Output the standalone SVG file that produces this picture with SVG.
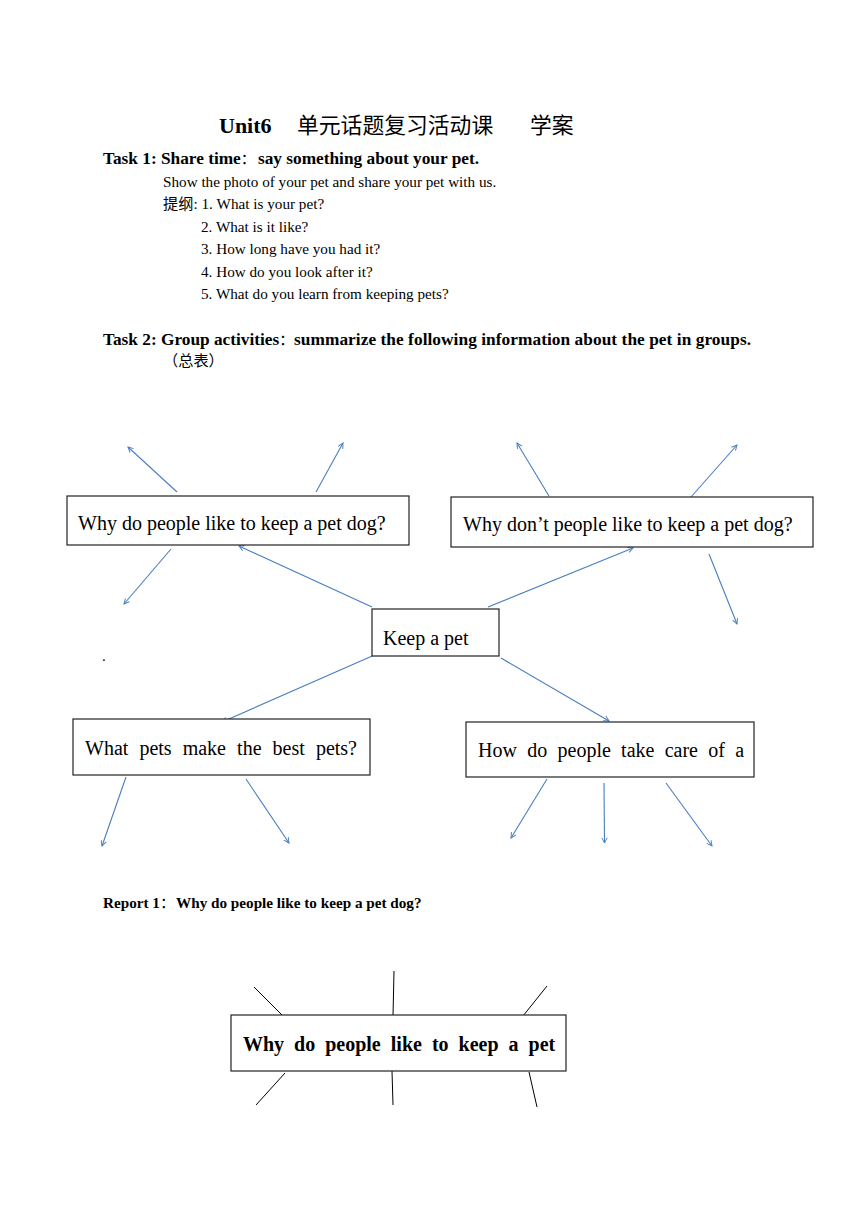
<svg xmlns="http://www.w3.org/2000/svg" width="860" height="1216" viewBox="0 0 860 1216">
<defs>
<style>
.s{font-family:"Liberation Serif","Noto Sans CJK SC",serif;fill:#000}
.b{font-weight:bold}
.n{font-weight:normal}
.r{font-size:15.2px}
.h{font-size:17.3px}
.bx{font-size:20px}
.cj{font-family:"Noto Sans CJK SC",sans-serif}
.box{fill:#fff;stroke:#222;stroke-width:1.2}
.ar{stroke:#4a7ebf;stroke-width:1.1;fill:none;marker-end:url(#ah)}
.bl{stroke:#000;stroke-width:1;fill:none}
</style>
<marker id="ah" viewBox="0 0 8 8" refX="7" refY="4" markerWidth="7" markerHeight="7" markerUnits="userSpaceOnUse" orient="auto">
<path d="M1,1 L7,4 L1,7" fill="none" stroke="#4a7ebf" stroke-width="1.1"/>
</marker>
</defs>
<rect width="860" height="1216" fill="#fff"/>

<g id="header">
<text class="s b" x="219" y="133" font-size="22">Unit6</text>
<text class="cj" x="297" y="133" font-size="21.8">单元话题复习活动课</text>
<text class="cj" x="530" y="133" font-size="21.8">学案</text>
<text class="s b h" x="103" y="164">Task 1: Share time<tspan class="n" font-size="15">：</tspan><tspan x="258">say something about your pet.</tspan></text>
<text class="s r" x="163" y="187">Show the photo of your pet and share your pet with us.</text>
<text class="s r" x="163" y="209">提纲: 1. What is your pet?</text>
<text class="s r" x="201" y="232">2. What is it like?</text>
<text class="s r" x="201" y="254">3. How long have you had it?</text>
<text class="s r" x="201" y="277">4. How do you look after it?</text>
<text class="s r" x="201" y="299">5. What do you learn from keeping pets?</text>
<text class="s b h" x="103" y="345">Task 2: Group activities<tspan class="n" font-size="15">：</tspan><tspan x="294" textLength="457" lengthAdjust="spacing">summarize the following information about the pet in groups.</tspan></text>
<text class="s r" x="163" y="366">（总表）</text>
<text class="s r" x="102" y="661">.</text>
</g>

<g id="connectors">
<line class="ar" x1="177" y1="492" x2="128" y2="447"/>
<line class="ar" x1="316" y1="492" x2="343" y2="443"/>
<line class="ar" x1="171" y1="549" x2="124" y2="604"/>
<line class="ar" x1="372" y1="607" x2="239" y2="546"/>
<line class="ar" x1="549" y1="496" x2="517" y2="443"/>
<line class="ar" x1="691" y1="497" x2="737" y2="445"/>
<line class="ar" x1="709" y1="554" x2="737" y2="624"/>
<line class="ar" x1="488" y1="607" x2="633" y2="548"/>
<line class="ar" x1="379" y1="653" x2="222" y2="722"/>
<line class="ar" x1="501" y1="658" x2="609" y2="721"/>
<line class="ar" x1="126" y1="777" x2="102" y2="846"/>
<line class="ar" x1="246" y1="779" x2="289" y2="843"/>
<line class="ar" x1="547" y1="779" x2="511" y2="838"/>
<line class="ar" x1="604" y1="783" x2="604.5" y2="843"/>
<line class="ar" x1="666" y1="783" x2="712" y2="846"/>
<line class="bl" x1="254" y1="987" x2="283" y2="1016"/>
<line class="bl" x1="394" y1="971" x2="393" y2="1016"/>
<line class="bl" x1="547" y1="986" x2="523" y2="1016"/>
<line class="bl" x1="285" y1="1073" x2="256" y2="1105"/>
<line class="bl" x1="392" y1="1071" x2="393" y2="1105"/>
<line class="bl" x1="529" y1="1072" x2="537" y2="1107"/>
</g>

<g id="node-like">
<rect class="box" x="67" y="496" width="342" height="49"/>
<text class="s bx" x="78" y="530">Why do people like to keep a pet dog?</text>
</g>
<g id="node-dislike">
<rect class="box" x="451" y="497" width="362" height="50"/>
<text class="s bx" x="463" y="531">Why don’t people like to keep a pet dog?</text>
</g>
<g id="node-keep">
<rect class="box" x="372" y="609" width="127" height="47"/>
<text class="s bx" x="383" y="645">Keep a pet</text>
</g>
<g id="node-best">
<rect class="box" x="73" y="719" width="297" height="56"/>
<text class="s bx" y="755"><tspan x="85">What</tspan><tspan x="139.4">pets</tspan><tspan x="182.7">make</tspan><tspan x="237.1">the</tspan><tspan x="272.6">best</tspan><tspan x="315.9">pets?</tspan></text>
</g>
<g id="node-care">
<rect class="box" x="466" y="722" width="288" height="55"/>
<text class="s bx" y="757"><tspan x="478">How</tspan><tspan x="527.2">do</tspan><tspan x="557.5">people</tspan><tspan x="621.1">take</tspan><tspan x="664.7">care</tspan><tspan x="708.3">of</tspan><tspan x="735.3">a</tspan></text>
</g>

<g id="report">
<text class="s b r" x="103" y="908">Report 1<tspan class="n">：</tspan><tspan x="176">Why do people like to keep a pet dog?</tspan></text>
</g>
<g id="node-report">
<rect class="box" x="231" y="1015" width="335" height="56"/>
<text class="s b bx" y="1051"><tspan x="243">Why</tspan><tspan x="294.1">do</tspan><tspan x="325.2">people</tspan><tspan x="390.8">like</tspan><tspan x="431.9">to</tspan><tspan x="458.6">keep</tspan><tspan x="508.6">a</tspan><tspan x="528.6">pet</tspan></text>
</g>
</svg>
